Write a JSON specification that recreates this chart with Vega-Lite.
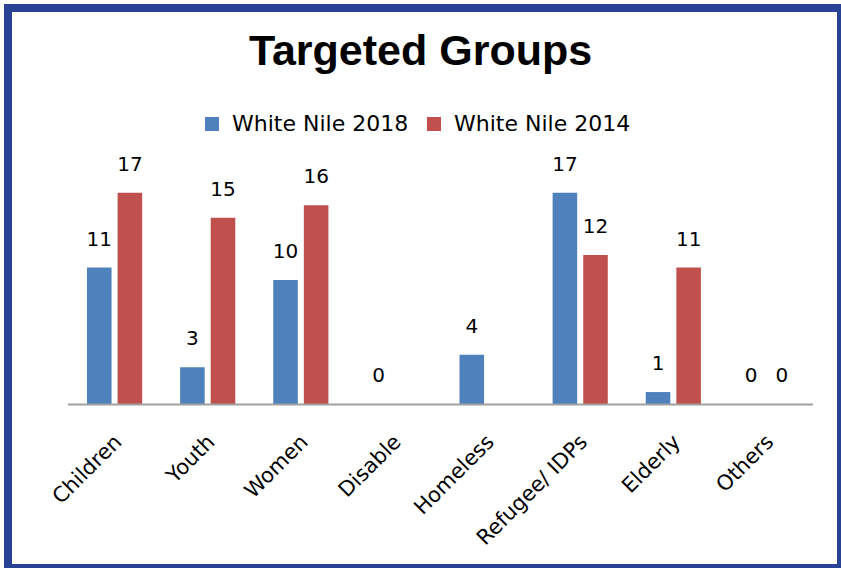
{
  "$schema": "https://vega.github.io/schema/vega-lite/v6.json",
  "width": 833,
  "height": 560,
  "autosize": {"type": "none"},
  "padding": {"left": 8, "top": 8, "right": 0, "bottom": 0},
  "background": "white",
  "title": {
    "text": "Targeted Groups",
    "font": "Liberation Sans",
    "fontSize": 43,
    "fontWeight": "bold",
    "color": "black",
    "anchor": "middle",
    "frame": "group",
    "baseline": "alphabetic",
    "offset": -100,
    "dx": -4
  },
  "data": {
    "values": [
      {"group": "Children", "series": "White Nile 2018", "value": 11},
      {"group": "Children", "series": "White Nile 2014", "value": 17},
      {"group": "Youth", "series": "White Nile 2018", "value": 3},
      {"group": "Youth", "series": "White Nile 2014", "value": 15},
      {"group": "Women", "series": "White Nile 2018", "value": 10},
      {"group": "Women", "series": "White Nile 2014", "value": 16},
      {"group": "Disable", "series": "White Nile 2018", "value": 0},
      {"group": "Homeless", "series": "White Nile 2018", "value": 4},
      {"group": "Refugee/ IDPs", "series": "White Nile 2018", "value": 17},
      {"group": "Refugee/ IDPs", "series": "White Nile 2014", "value": 12},
      {"group": "Elderly", "series": "White Nile 2018", "value": 1},
      {"group": "Elderly", "series": "White Nile 2014", "value": 11},
      {"group": "Others", "series": "White Nile 2018", "value": 0},
      {"group": "Others", "series": "White Nile 2014", "value": 0}
    ]
  },
  "encoding": {
    "x": {
      "field": "group",
      "type": "nominal",
      "scale": {
        "domain": ["Children", "Youth", "Women", "Disable", "Homeless", "Refugee/ IDPs", "Elderly", "Others"],
        "paddingInner": 0,
        "paddingOuter": 0.4725,
        "align": 0.682
      },
      "axis": {
        "title": null,
        "domain": false,
        "ticks": false,
        "grid": false,
        "labelAngle": -45,
        "labelAlign": "right",
        "labelBaseline": "middle",
        "labelFont": "DejaVu Sans",
        "labelFontSize": 21,
        "labelColor": "black",
        "labelPadding": 34,
        "labelOffset": 4,
        "offset": -163.5
      }
    }
  },
  "layer": [
    {
      "mark": {"type": "bar"},
      "encoding": {
        "xOffset": {
          "field": "series",
          "type": "nominal",
          "scale": {"domain": ["White Nile 2018", "White Nile 2014"], "paddingInner": 0.197, "paddingOuter": 0.62}
        },
        "y": {
          "field": "value",
          "type": "quantitative",
          "scale": {"domain": [-13.133, 31.847], "zero": false, "nice": false},
          "axis": null
        },
        "y2": {"datum": 0},
        "color": {
          "field": "series",
          "type": "nominal",
          "scale": {"domain": ["White Nile 2018", "White Nile 2014"], "range": ["#4F81BD", "#C0504D"]},
          "legend": {
            "title": null,
            "orient": "none",
            "direction": "horizontal",
            "legendX": 193,
            "legendY": 105,
            "symbolType": "square",
            "symbolSize": 196,
            "symbolStrokeWidth": 0,
            "labelFont": "DejaVu Sans",
            "labelFontSize": 22,
            "labelColor": "black",
            "labelOffset": 9,
            "columnPadding": 14,
            "labelLimit": 300
          }
        }
      }
    },
    {
      "mark": {"type": "text", "dy": -22, "baseline": "alphabetic", "font": "DejaVu Sans", "fontSize": 20, "color": "black"},
      "encoding": {
        "xOffset": {"field": "series", "type": "nominal"},
        "y": {"field": "value", "type": "quantitative"},
        "text": {"field": "value", "type": "quantitative"}
      }
    },
    {
      "data": {"values": [{}]},
      "mark": {"type": "rule", "color": "#A0A0A0", "strokeWidth": 2},
      "encoding": {
        "x": {"datum": "Children", "bandPosition": 0},
        "x2": {"datum": "Others", "bandPosition": 1},
        "y": {"datum": 0}
      }
    }
  ],
  "config": {
    "view": {"stroke": "#2A4294", "strokeWidth": 8, "fill": "white"}
  }
}
